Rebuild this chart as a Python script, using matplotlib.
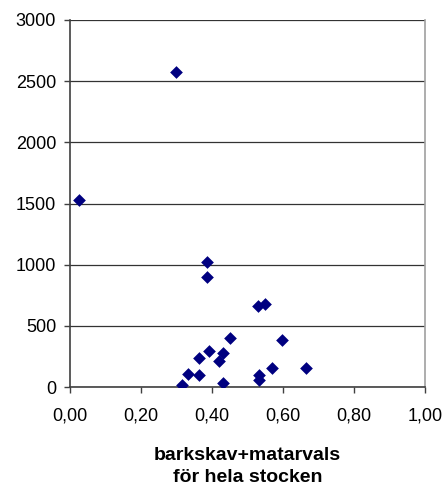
import matplotlib
matplotlib.use("Agg")
import matplotlib.pyplot as plt
from matplotlib.ticker import FuncFormatter, MultipleLocator

plt.rcParams['font.family'] = ['Liberation Sans', 'DejaVu Sans']

# andel barkskav + matarvals per stock, och tillhörande värde
andel = [0.025, 0.299, 0.385, 0.385, 0.530, 0.549, 0.451, 0.598, 0.392,
         0.432, 0.364, 0.421, 0.568, 0.664, 0.333, 0.364, 0.532, 0.532,
         0.315, 0.430]
varde = [1525, 2577, 1019, 896, 664, 680, 404, 388, 295,
         282, 235, 216, 158, 158, 109, 96, 98, 57,
         16, 30]

fig = plt.figure(figsize=(4.48, 4.91), dpi=100)
ax = fig.add_axes([70 / 448, 1 - 387 / 491, 355 / 448, 367 / 491])

ax.scatter(andel, varde, marker='D', s=42, color='#000080', zorder=3,
           linewidths=0)

ax.set_xlim(0, 1.0)
ax.set_ylim(0, 3000)
ax.xaxis.set_major_locator(MultipleLocator(0.2))
ax.yaxis.set_major_locator(MultipleLocator(500))
ax.xaxis.set_major_formatter(FuncFormatter(lambda v, p: f"{v:.2f}".replace('.', ',')))

ax.grid(axis='y', color='#333333', linewidth=0.9, zorder=1)
for side in ('left', 'bottom'):
    ax.spines[side].set_color('#404040')
    ax.spines[side].set_linewidth(1.2)
ax.spines['top'].set_visible(False)
ax.spines['right'].set_color('#a0a0a0')
ax.spines['right'].set_linewidth(1.2)

ax.tick_params(axis='both', direction='out', length=4, width=1,
               color='#404040', labelsize=13, pad=6)
ax.tick_params(axis='x', pad=11)

ax.set_xlabel("barkskav+matarvals\nför hela stocken", fontsize=14,
              fontweight='bold', labelpad=16, linespacing=1.35)

fig.savefig("out.png", dpi=100)
